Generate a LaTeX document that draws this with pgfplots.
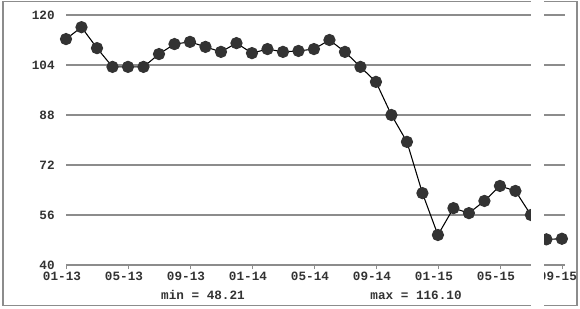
\documentclass[border=0pt]{standalone}
\usepackage{pgfplots}
\pgfplotsset{compat=1.18}
\usepackage{fontspec}
\setmainfont{Liberation Mono}
\definecolor{gridc}{HTML}{8C8C8C}
\definecolor{markc}{HTML}{333333}
\begin{document}
\begin{tikzpicture}[x=0.75pt,y=0.75pt]
\useasboundingbox (0,0) rectangle (580,308);
\draw[gridc,line width=1.3pt] (3,2.5) -- (3,306.5) -- (577,306.5) -- (577,2.5) -- cycle;
\begin{axis}[
  at={(49.5pt,32.25pt)}, anchor=south west,
  scale only axis, width=374.25pt, height=187.5pt,
  xmin=0, xmax=32.2, ymin=40, ymax=120,
  axis x line*=bottom, axis y line*=left,
  x axis line style={gridc,line width=0.8pt,-},
  y axis line style={draw=none},
  xtick={0,4,8,12,16,20,24,28,32},
  xticklabels={01-13,05-13,09-13,01-14,05-14,09-14,01-15,05-15,09-15},
  ytick={40,56,72,88,104,120},
  ymajorgrids, major grid style={gridc,line width=0.8pt},
  tick align=outside, major tick length=3pt,
  x tick style={gridc,line width=0.6pt},
  y tick style={draw=none},
  tick label style={font=\fontsize{9.5}{10}\selectfont\bfseries, text=black!80},
  x tick label style={yshift=1pt, xshift=-3pt},
  yticklabel style={xshift=-2pt},
  /pgf/number format/assume math mode=true,
  clip=false,
]
\addplot[black, line width=0.8pt, mark=*, mark size=4.2pt, mark options={fill=markc, draw=markc}] coordinates {
(0,112.3) (1,116.1) (2,109.4) (3,103.4) (4,103.4) (5,103.4) (6,107.5) (7,110.7) (8,111.4) (9,109.8) (10,108.2) (11,111.0)
(12,107.8) (13,109.1) (14,108.2) (15,108.5) (16,109.1) (17,112.0) (18,108.2) (19,103.4) (20,98.6) (21,88.0) (22,79.4) (23,63.0)
(24,49.6) (25,58.2) (26,56.6) (27,60.5) (28,65.3) (29,63.7) (30,56.0) (31,48.21) (32,48.4)
};
\end{axis}
\node[font=\fontsize{9.5}{10}\selectfont\bfseries, text=black!80] at (203,13) {min = 48.21};
\node[font=\fontsize{9.5}{10}\selectfont\bfseries, text=black!80] at (416,13) {max = 116.10};
\fill[white] (531,0) rectangle (544,308);
\end{tikzpicture}
\end{document}
